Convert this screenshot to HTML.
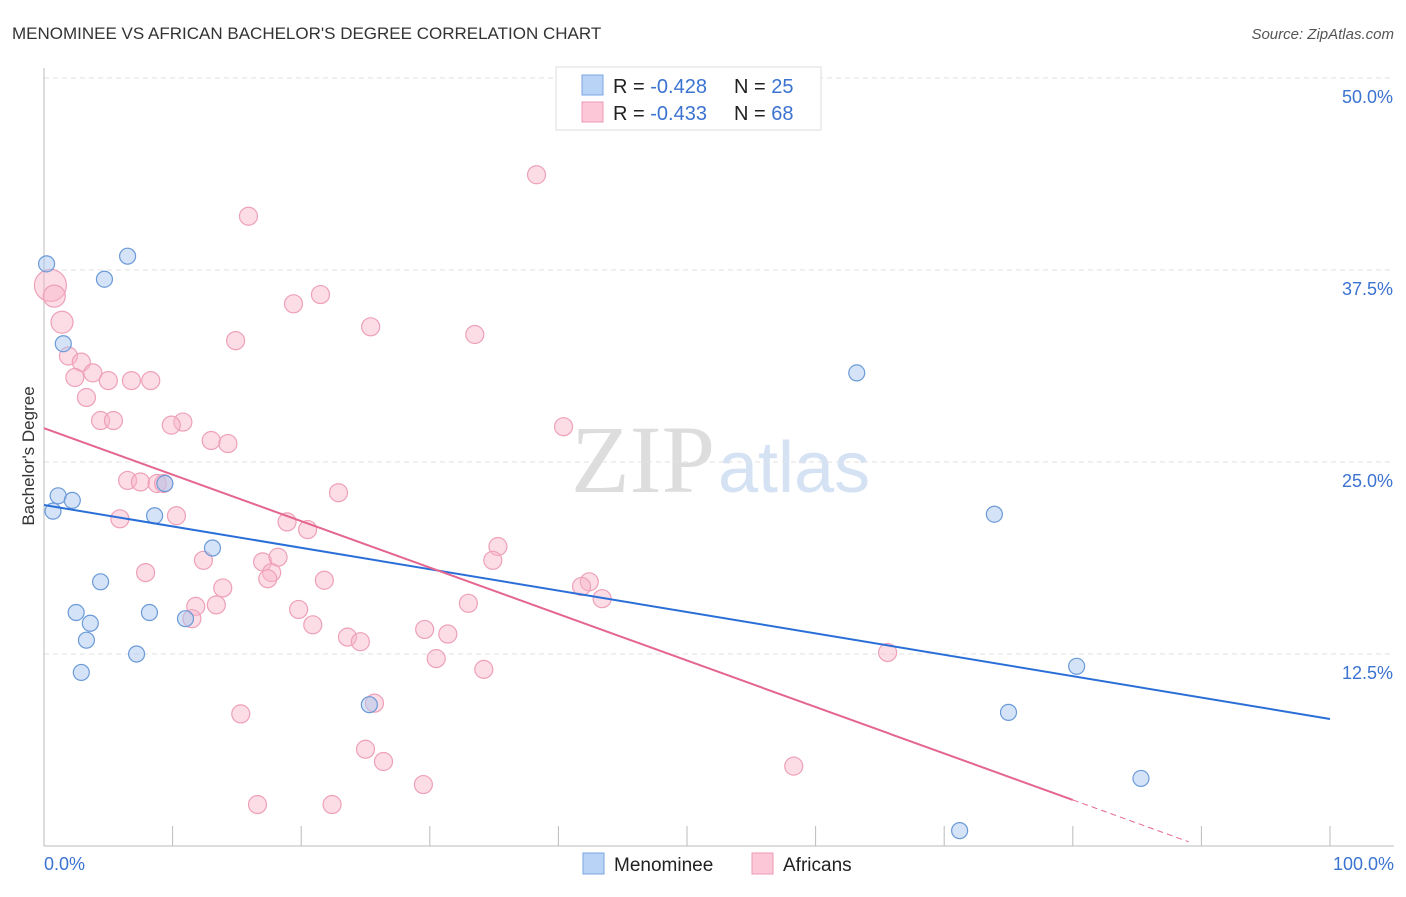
<!DOCTYPE html>
<html><head><meta charset="utf-8"><style>
body{margin:0;background:#fff;font-family:"Liberation Sans",sans-serif;}
</style></head><body>
<svg id="c" width="1406" height="892" xmlns="http://www.w3.org/2000/svg">
<text x="12" y="39" font-size="17" fill="#333">MENOMINEE VS AFRICAN BACHELOR'S DEGREE CORRELATION CHART</text>
<text x="1394" y="39" font-size="15" fill="#555" font-style="italic" text-anchor="end">Source: ZipAtlas.com</text>
<text x="715" y="492" font-size="96" fill="#ddd" text-anchor="end" font-family="Liberation Serif,serif">ZIP</text>
<text x="718" y="492" font-size="72" fill="#d4e2f4">atlas</text>
<g id="grid"></g><g id="pts"></g><g id="lines"></g>
<text transform="translate(34,456) rotate(-90)" font-size="17" fill="#333" text-anchor="middle">Bachelor's Degree</text>
<text x="44" y="870" font-size="18" fill="#3b73d1">0.0%</text>
<text x="1394" y="870" font-size="18" fill="#3b73d1" text-anchor="end">100.0%</text>
<g>
<rect x="556" y="67" width="265" height="63" fill="#fff" stroke="#ddd"/>
<rect x="582" y="75" width="21" height="20" fill="#b8d3f5" stroke="#7aa6e0"/>
<rect x="582" y="102" width="21" height="20" fill="#fcc8d7" stroke="#ee9ab3"/>
<text x="613" y="93" font-size="20" fill="#222">R = <tspan fill="#3b73d1">-0.428</tspan></text>
<text x="734" y="93" font-size="20" fill="#222">N = <tspan fill="#3b73d1">25</tspan></text>
<text x="613" y="120" font-size="20" fill="#222">R = <tspan fill="#3b73d1">-0.433</tspan></text>
<text x="734" y="120" font-size="20" fill="#222">N = <tspan fill="#3b73d1">68</tspan></text>
</g>
<g>
<rect x="583" y="853" width="21" height="21" fill="#b8d3f5" stroke="#7aa6e0"/>
<text x="614" y="871" font-size="19" fill="#222">Menominee</text>
<rect x="752" y="853" width="21" height="21" fill="#fcc8d7" stroke="#ee9ab3"/>
<text x="783" y="871" font-size="19" fill="#222">Africans</text>
</g>
</svg>
<script>
const yTicks=[12.5,25,37.5,50];
const yTickLabels=["12.5%","25.0%","37.5%","50.0%"];
const blueX=[0.2,6.5,4.7,1.5,1.1,2.2,0.7,8.6,9.4,13.1,4.4,2.5,8.2,3.6,3.3,11.0,7.2,2.9,25.3,63.2,73.9,80.3,75.0,85.3,71.2];
const blueY=[37.9,38.4,36.9,32.7,22.8,22.5,21.8,21.5,23.6,19.4,17.2,15.2,15.2,14.5,13.4,14.8,12.5,11.3,9.2,30.8,21.6,11.7,8.7,4.4,1.0];
const pinkPx=[[536,175],[249,217],[50,285],[54,296],[320,295],[293,304],[62,322],[371,327],[475,334],[236,340],[68,356],[81,362],[93,373],[75,378],[108,381],[131,380],[151,380],[87,398],[564,427],[101,421],[114,421],[183,422],[171,425],[211,441],[228,444],[127,480],[140,482],[157,483],[163,483],[338,493],[120,519],[177,515],[287,522],[307,529],[498,546],[262,562],[203,560],[278,557],[493,561],[272,572],[146,572],[268,578],[324,581],[589,582],[581,587],[223,588],[602,598],[469,604],[196,607],[216,605],[299,609],[192,619],[313,625],[425,630],[448,634],[348,637],[360,642],[436,659],[484,669],[888,653],[374,703],[241,714],[366,750],[383,761],[794,766],[423,784],[257,804],[332,804]];
const pinkX=pinkPx.map(p=>+((p[0]-44)/12.86).toFixed(1));
const pinkY=pinkPx.map(p=>+((846-p[1])/15.36).toFixed(1));
const pinkR=pinkX.map((v,i)=>i==2?16:(i==3||i==6?11:9));
const blueTrend=[22.2,8.27];
const pinkTrend=[27.2,3.0];
const NS="http://www.w3.org/2000/svg";
const X=v=>44+v*12.86, Y=v=>846-v*15.36;
function mk(t,a,p){const e=document.createElementNS(NS,t);for(const k in a)e.setAttribute(k,a[k]);p.appendChild(e);return e;}
const g=document.getElementById('grid');
yTicks.forEach((t,i)=>{
 const l=mk('line',{x1:44,x2:1394,y1:Y(t),y2:Y(t),stroke:'#e2e2e2','stroke-dasharray':'5,4'},g);
 
 
 const tx=mk('text',{x:1393,y:Y(t)+25,'font-size':18,fill:'#3b73d1','text-anchor':'end'},g);
 tx.textContent=yTickLabels[i];
 
 
});
const ax=mk('line',{x1:44,x2:1394,y1:846,y2:846,stroke:'#bbb'},g);


const ay=mk('line',{x1:44,x2:44,y1:68,y2:846,stroke:'#bbb'},g);


for(let i=0;i<=10;i++){const t=mk('line',{x1:X(i*10),x2:X(i*10),y1:826,y2:846,stroke:'#bbb'},g);
 
 }
const pg=document.getElementById('pts');
pinkX.forEach((v,i)=>{const c=mk('circle',{cx:X(v),cy:Y(pinkY[i]),r:pinkR[i],fill:'rgba(248,180,200,0.45)',stroke:'#eea0b8','stroke-width':1.2},pg);
 
 });
blueX.forEach((v,i)=>{const c=mk('circle',{cx:X(v),cy:Y(blueY[i]),r:8,fill:'rgba(170,200,240,0.5)',stroke:'#6a9ad8','stroke-width':1.2},pg);
 
 });
const lg=document.getElementById('lines');
const bl=mk('line',{x1:X(0),y1:Y(blueTrend[0]),x2:X(100),y2:Y(blueTrend[1]),stroke:'#2a6fd8','stroke-width':2},lg);


const slope=(pinkTrend[1]-pinkTrend[0])/80;
const pl=mk('line',{x1:X(0),y1:Y(pinkTrend[0]),x2:X(80),y2:Y(pinkTrend[1]),stroke:'#e4668f','stroke-width':2},lg);


const pd=mk('line',{x1:X(80),y1:Y(pinkTrend[1]),x2:X(89),y2:Y(pinkTrend[0]+slope*89),stroke:'#e4668f','stroke-width':1,'stroke-dasharray':'6,4'},lg);


</script>
</body></html>
